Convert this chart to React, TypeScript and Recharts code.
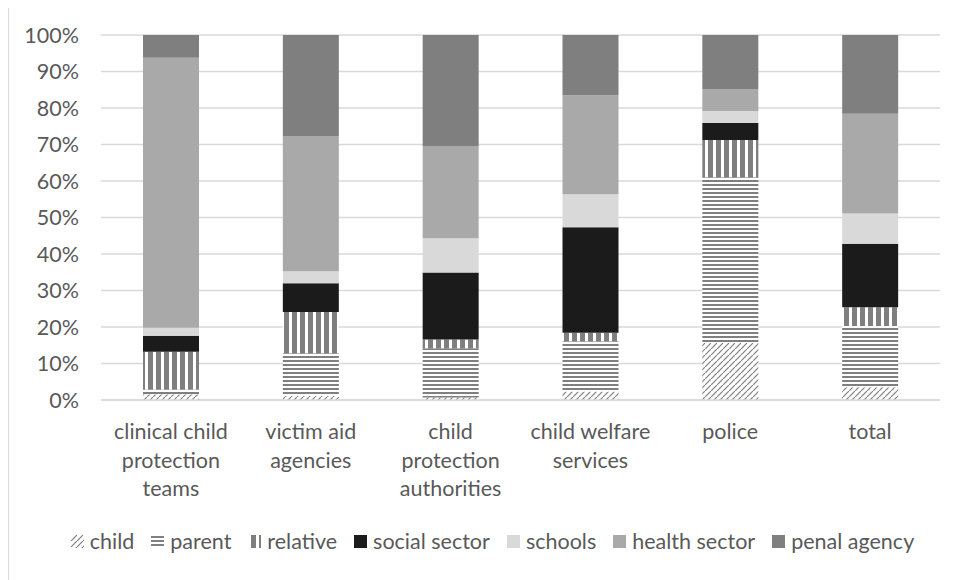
import { BarChart, Bar, XAxis, YAxis, CartesianGrid } from 'recharts';

const categories = [
  'clinical child protection teams',
  'victim aid agencies',
  'child protection authorities',
  'child welfare services',
  'police',
  'total',
];

// wrapped axis labels, one array per category
const categoryLines = [
  ['clinical child', 'protection', 'teams'],
  ['victim aid', 'agencies'],
  ['child', 'protection', 'authorities'],
  ['child welfare', 'services'],
  ['police'],
  ['total'],
];

// shares in percent, bottom to top of each stack
const child = [1.6, 1.1, 0.7, 2.3, 15.7, 3.5];
const parent = [1.3, 11.7, 13.5, 13.8, 45.3, 16.8];
const relative = [10.3, 11.3, 2.4, 2.3, 10.2, 5.1];
const social = [4.4, 7.9, 18.3, 28.9, 4.7, 17.4];
const schools = [2.2, 3.3, 9.4, 9.1, 3.3, 8.3];
const health = [74.0, 37.0, 25.3, 27.1, 6.0, 27.3];
const penal = [6.2, 27.7, 30.4, 16.5, 14.8, 21.6];

const yTicks = [0, 10, 20, 30, 40, 50, 60, 70, 80, 90, 100];

const series = [
  { key: 'child', name: 'child', fill: 'url(#pat-child)' },
  { key: 'parent', name: 'parent', fill: 'url(#pat-parent)' },
  { key: 'relative', name: 'relative', fill: 'url(#pat-relative)' },
  { key: 'social', name: 'social sector', fill: '#1b1b1b' },
  { key: 'schools', name: 'schools', fill: '#d9d9d9' },
  { key: 'health', name: 'health sector', fill: '#a9a9a9' },
  { key: 'penal', name: 'penal agency', fill: '#7f7f7f' },
];

const data = categories.map((name, i) => ({
  name,
  child: child[i],
  parent: parent[i],
  relative: relative[i],
  social: social[i],
  schools: schools[i],
  health: health[i],
  penal: penal[i],
}));

const FONT = 'Lato, "Open Sans", sans-serif';
const TEXT = '#595959';
const FONT_SIZE = 21.5;

const CategoryTick = (props: any) => {
  const { x, y, payload } = props;
  const idx = categories.indexOf(payload.value);
  const lines = categoryLines[idx] || [payload.value];
  return (
    <text x={x} y={y} textAnchor="middle" fill={TEXT} fontSize={FONT_SIZE} fontFamily={FONT}>
      {lines.map((line, i) => (
        <tspan key={i} x={x} dy={i === 0 ? 39 : 28.5}>
          {line}
        </tspan>
      ))}
    </text>
  );
};

const PatternDefs = () => (
  <defs>
    <pattern id="pat-child" patternUnits="userSpaceOnUse" width="6" height="6">
      <rect width="6" height="6" fill="#fff" />
      <path d="M-1,7 L7,-1" stroke="#7f7f7f" strokeWidth="1.2" />
    </pattern>
    <pattern id="pat-parent" patternUnits="userSpaceOnUse" width="4" height="4">
      <rect width="4" height="4" fill="#fff" />
      <rect y="1" width="4" height="2" fill="#7f7f7f" />
    </pattern>
    <pattern id="pat-relative" patternUnits="userSpaceOnUse" width="8" height="8">
      <rect width="8" height="8" fill="#fff" />
      <rect x="3" width="5" height="8" fill="#7f7f7f" />
    </pattern>
  </defs>
);

const LegendRow = () => (
  <div
    style={{
      position: 'absolute',
      top: 522,
      left: 0,
      width: 947,
      paddingLeft: 37,
      boxSizing: 'border-box',
      display: 'flex',
      justifyContent: 'center',
      alignItems: 'center',
      fontFamily: FONT,
      fontSize: FONT_SIZE,
      color: TEXT,
      lineHeight: '24px',
    }}
  >
    {series.map((s) => (
      <div key={s.key} style={{ display: 'flex', alignItems: 'center', marginRight: 17 }}>
        <svg width={13} height={13} style={{ marginRight: 6 }}>
          <rect width={13} height={13} fill={s.fill} />
        </svg>
        <span>{s.name}</span>
      </div>
    ))}
  </div>
);

export default function App() {
  return (
    <div
      style={{
        position: 'relative',
        width: 952,
        height: 573,
        marginTop: -2,
        border: '1px solid #d9d9d9',
        background: '#fff',
      }}
    >
      <BarChart
        width={947}
        height={520}
        data={data}
        margin={{ top: 28, right: 16, bottom: 0, left: 0 }}
        barSize={56}
      >
        <PatternDefs />
        <CartesianGrid vertical={false} stroke="#d9d9d9" strokeWidth={1.3} />
        <XAxis
          dataKey="name"
          height={127}
          axisLine={{ stroke: '#d9d9d9', strokeWidth: 1.3 }}
          tickLine={false}
          tickSize={0}
          tickMargin={0}
          interval={0}
          tick={<CategoryTick />}
        />
        <YAxis
          width={92}
          domain={[0, 100]}
          ticks={yTicks}
          tickFormatter={(v) => `${v}%`}
          axisLine={false}
          tickLine={false}
          tickSize={0}
          tickMargin={22}
          tick={{ fill: TEXT, fontSize: FONT_SIZE, fontFamily: FONT }}
        />
        {series.map((s) => (
          <Bar
            key={s.key}
            dataKey={s.key}
            name={s.name}
            stackId="share"
            fill={s.fill}
            isAnimationActive={false}
          />
        ))}
      </BarChart>
      <LegendRow />
    </div>
  );
}
